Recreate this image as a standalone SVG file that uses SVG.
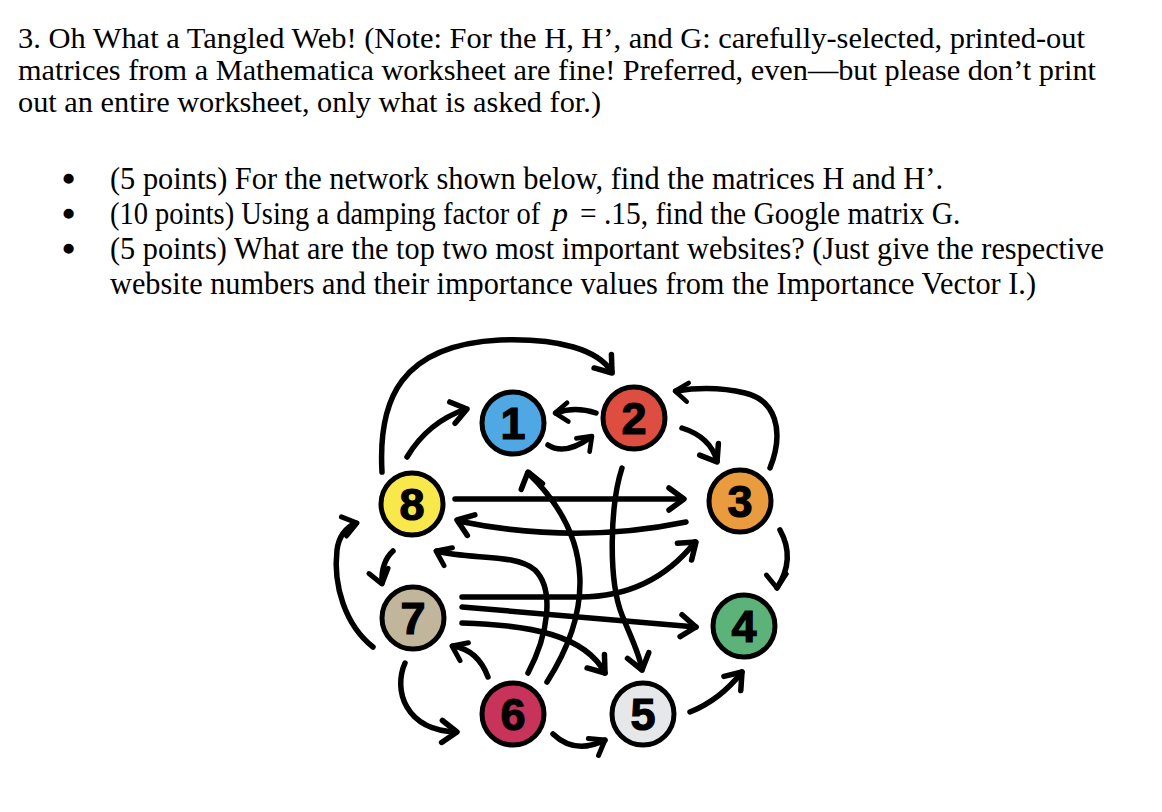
<svg xmlns="http://www.w3.org/2000/svg" xmlns:xlink="http://www.w3.org/1999/xlink" width="1162" height="812" viewBox="0 0 1162 812">
<style>
.t{font-family:"Liberation Serif","Times New Roman",serif;font-size:32px;fill:#000}
.h{font-family:"Liberation Serif","Times New Roman",serif;font-size:30px;fill:#000}
.b{font-family:"Liberation Serif","Times New Roman",serif;font-size:32px;fill:#000;stroke:#000;stroke-width:2.5}
.e{fill:none;stroke:#000;stroke-width:5.5;stroke-linecap:round;stroke-linejoin:round}
.n{stroke:#000;stroke-width:5}
.d{font-family:"Liberation Sans",Arial,sans-serif;font-weight:bold;font-size:45px;fill:#000;stroke:#000;stroke-width:1.2;text-anchor:middle}
</style>
<defs>
<path id="ah" class="e" d="M -15 -11 L 0 0 L -15 11"/>
</defs>
<rect width="1162" height="812" fill="#fff"/>
<g id="text">
<text class="h" x="18" y="48" textLength="1067" lengthAdjust="spacingAndGlyphs">3. Oh What a Tangled Web! (Note: For the H, H’, and G: carefully-selected, printed-out</text>
<text class="h" x="18" y="80" textLength="1078" lengthAdjust="spacingAndGlyphs">matrices from a Mathematica worksheet are fine! Preferred, even—but please don’t print</text>
<text class="h" x="18" y="112" textLength="583" lengthAdjust="spacingAndGlyphs">out an entire worksheet, only what is asked for.)</text>
<text class="b" x="63" y="190">•</text>
<text class="b" x="63" y="225">•</text>
<text class="b" x="63" y="260">•</text>
<text class="t" x="110" y="189" textLength="833" lengthAdjust="spacingAndGlyphs">(5 points) For the network shown below, find the matrices H and H’.</text>
<text class="t" transform="translate(110,224) scale(0.89,1)">(10 points) Using a damping factor of</text>
<text class="t" x="552" y="224" font-style="italic">p</text>
<text class="t" transform="translate(580,224) scale(0.92,1)">= .15, find the Google matrix G.</text>
<text class="t" x="110" y="259" textLength="994" lengthAdjust="spacingAndGlyphs">(5 points) What are the top two most important websites? (Just give the respective</text>
<text class="t" x="110" y="294" textLength="926" lengthAdjust="spacingAndGlyphs">website numbers and their importance values from the Importance Vector I.)</text>
</g>
<g id="connectors">
<path class="e" d="M 382 472 C 378 400, 400 345, 500 340 C 560 338, 598 350, 612 372"/>
<use href="#ah" transform="translate(612,373) rotate(52)"/>
<path class="e" d="M 407 457 Q 428 422 466 409"/>
<use href="#ah" transform="translate(467,409) rotate(-14)"/>
<path class="e" d="M 596 413 Q 575 406 556 413"/>
<use href="#ah" transform="translate(555,413) rotate(176) scale(0.85)"/>
<path class="e" d="M 548 445 Q 565 456 591 437"/>
<use href="#ah" transform="translate(592,436) rotate(-45) scale(0.85)"/>
<path class="e" d="M 682 428 C 698 433, 712 443, 717 461"/>
<use href="#ah" transform="translate(717,462) rotate(58)"/>
<path class="e" d="M 770 468 C 785 430, 775 400, 745 393 C 720 387, 695 388, 676 391"/>
<use href="#ah" transform="translate(675,391) rotate(186) scale(0.85)"/>
<path class="e" d="M 455 499 L 683 499"/>
<use href="#ah" transform="translate(684,499) rotate(0)"/>
<path class="e" d="M 686 522 Q 575 545 458 521"/>
<use href="#ah" transform="translate(457,520) rotate(200)"/>
<path class="e" d="M 547 682 C 590 615, 598 540, 528 473"/>
<use href="#ah" transform="translate(528,472) rotate(-105)"/>
<path class="e" d="M 528 673 C 548 635, 555 590, 535 570 C 515 553, 470 560, 437 551"/>
<use href="#ah" transform="translate(436,551) rotate(205) scale(0.9)"/>
<path class="e" d="M 622 468 C 610 505, 608 580, 622 615 C 632 640, 640 655, 642 670"/>
<use href="#ah" transform="translate(642,670) rotate(75)"/>
<path class="e" d="M 462 597 L 580 597 C 625 597, 665 580, 695 542"/>
<use href="#ah" transform="translate(696,542) rotate(-40)"/>
<path class="e" d="M 462 607 L 696 627"/>
<use href="#ah" transform="translate(696,627) rotate(5)"/>
<path class="e" d="M 462 623 C 530 625, 585 635, 605 673"/>
<use href="#ah" transform="translate(605,673) rotate(52)"/>
<path class="e" d="M 488 677 Q 478 650 453 646"/>
<use href="#ah" transform="translate(452,646) rotate(205) scale(0.9)"/>
<path class="e" d="M 405 663 C 393 690, 405 730, 456 732"/>
<use href="#ah" transform="translate(457,732) rotate(2)"/>
<path class="e" d="M 393 551 Q 381 562 382 583"/>
<use href="#ah" transform="translate(382,584) rotate(75) scale(0.9)"/>
<path class="e" d="M 373 647 C 345 625, 333 585, 337 550 C 339 535, 347 527, 356 523"/>
<use href="#ah" transform="translate(357,523) rotate(-15) scale(0.9)"/>
<path class="e" d="M 553 734 Q 575 755 605 740"/>
<use href="#ah" transform="translate(605,740) rotate(-31) scale(0.9)"/>
<path class="e" d="M 690 712 Q 720 700 742 672"/>
<use href="#ah" transform="translate(742,672) rotate(-50)"/>
<path class="e" d="M 780 530 C 790 548, 790 568, 777 588"/>
<use href="#ah" transform="translate(777,588) rotate(87) scale(0.9)"/>
</g>
<g id="node-1"><circle class="n" cx="513" cy="423" r="31" fill="#4FA8E3"/><text class="d" x="513" y="439">1</text></g>
<g id="node-2"><circle class="n" cx="634" cy="418" r="31" fill="#DD4E40"/><text class="d" x="634" y="434">2</text></g>
<g id="node-3"><circle class="n" cx="740" cy="501" r="31" fill="#E99B3E"/><text class="d" x="740" y="517">3</text></g>
<g id="node-4"><circle class="n" cx="744" cy="626" r="31" fill="#5BB37A"/><text class="d" x="744" y="642">4</text></g>
<g id="node-5"><circle class="n" cx="643" cy="714" r="31" fill="#E6E7E9"/><text class="d" x="643" y="730">5</text></g>
<g id="node-6"><circle class="n" cx="513" cy="714" r="31" fill="#C8335C"/><text class="d" x="513" y="730">6</text></g>
<g id="node-7"><circle class="n" cx="413" cy="618" r="31" fill="#C1B59C"/><text class="d" x="413" y="634">7</text></g>
<g id="node-8"><circle class="n" cx="412" cy="504" r="31" fill="#F8E84B"/><text class="d" x="412" y="520">8</text></g>
</svg>
